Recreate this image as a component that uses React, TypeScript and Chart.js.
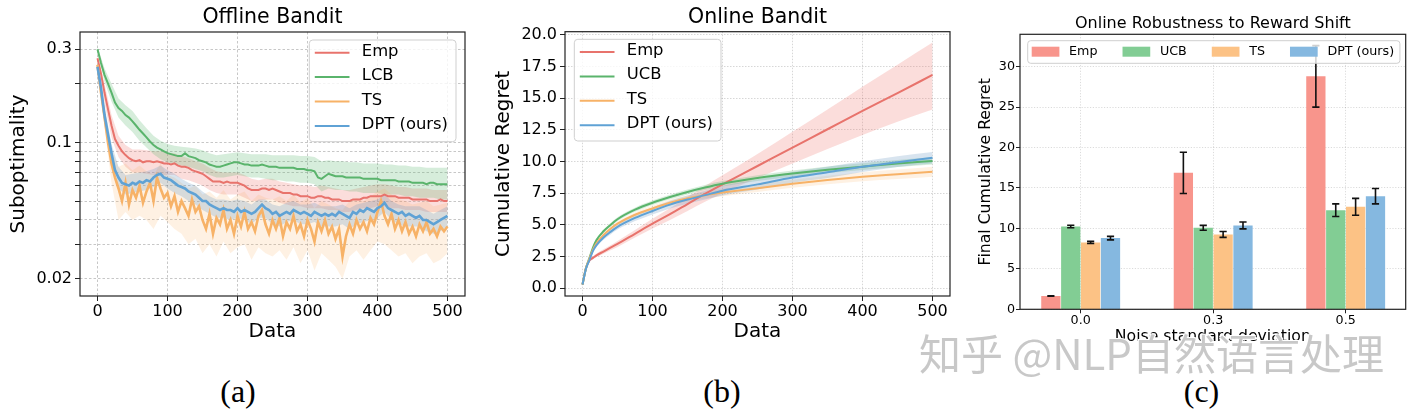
import React, { useEffect, useRef } from 'react';
import { Chart, registerables } from 'chart.js';

Chart.register(...registerables);

const FONT = "'DejaVu Sans', sans-serif";

// ---------- shared ----------
const LINE_COLORS = ['#E8736C', '#5AB46C', '#F7B267', '#5FA2D5'];
const BAND_COLORS = ['rgba(240,120,110,0.25)', 'rgba(90,185,110,0.25)', 'rgba(249,170,90,0.17)', 'rgba(110,155,195,0.27)'];
const BAR_COLORS = ['#F8958C', '#82CD94', '#FCC285', '#85B8E0'];
const X_TICKS = [0, 100, 200, 300, 400, 500];

// ---------- (a) Offline Bandit ----------
const OFF_NAMES = ['Emp', 'LCB', 'TS', 'DPT (ours)'];
const OFF_X = Array.from({ length: 101 }, (_, i) => i * 5);
const OFF_BAND_X = Array.from({ length: 51 }, (_, i) => i * 10);
const OFF_Y_TICKS = [0.02, 0.03, 0.04, 0.05, 0.06, 0.07, 0.08, 0.09, 0.1, 0.2, 0.3];
const OFF_Y_LABELS = [0.02, 0.1, 0.3];

const OFF_EMP = [
  0.270, 0.225, 0.180, 0.148, 0.122, 0.104, 0.096, 0.090, 0.086, 0.083,
  0.081, 0.080, 0.081, 0.079, 0.080, 0.080, 0.079, 0.080, 0.079, 0.078,
  0.078, 0.077, 0.078, 0.076, 0.075, 0.075, 0.074, 0.072, 0.071, 0.070,
  0.069, 0.067, 0.065, 0.063, 0.063, 0.063, 0.062, 0.063, 0.062, 0.062,
  0.062, 0.061, 0.060, 0.058, 0.057, 0.057, 0.057, 0.058, 0.058, 0.057,
  0.058, 0.057, 0.056, 0.055, 0.055, 0.055, 0.054, 0.054, 0.053, 0.053,
  0.053, 0.052, 0.052, 0.053, 0.053, 0.052, 0.052, 0.051, 0.051, 0.051,
  0.050, 0.050, 0.050, 0.051, 0.051, 0.051, 0.052, 0.052, 0.053, 0.053,
  0.053, 0.053, 0.054, 0.053, 0.053, 0.053, 0.052, 0.052, 0.052, 0.052,
  0.051, 0.051, 0.051, 0.051, 0.051, 0.050, 0.050, 0.050, 0.051, 0.050, 0.050,
];
const OFF_LCB = [
  0.300, 0.255, 0.222, 0.200, 0.180, 0.160, 0.150, 0.145, 0.138, 0.134,
  0.128, 0.122, 0.116, 0.111, 0.106, 0.101, 0.097, 0.094, 0.092, 0.090,
  0.088, 0.087, 0.086, 0.085, 0.085, 0.088, 0.085, 0.084, 0.083, 0.081,
  0.080, 0.079, 0.077, 0.076, 0.075, 0.075, 0.076, 0.077, 0.078, 0.079,
  0.079, 0.078, 0.077, 0.077, 0.076, 0.076, 0.076, 0.077, 0.076, 0.075,
  0.075, 0.075, 0.074, 0.074, 0.074, 0.074, 0.074, 0.073, 0.073, 0.073,
  0.072, 0.072, 0.071, 0.066, 0.065, 0.067, 0.069, 0.068, 0.067, 0.067,
  0.067, 0.066, 0.066, 0.066, 0.066, 0.066, 0.065, 0.065, 0.065, 0.065,
  0.065, 0.064, 0.064, 0.064, 0.064, 0.064, 0.063, 0.063, 0.063, 0.063,
  0.062, 0.062, 0.062, 0.062, 0.061, 0.062, 0.062, 0.061, 0.061, 0.061, 0.061,
];
const OFF_TS = [
  0.250, 0.180, 0.135, 0.100, 0.078, 0.066, 0.058, 0.050, 0.062, 0.048,
  0.057, 0.052, 0.060, 0.049, 0.056, 0.062, 0.050, 0.066, 0.058, 0.052,
  0.055, 0.047, 0.053, 0.044, 0.050, 0.046, 0.042, 0.051, 0.044, 0.047,
  0.040, 0.036, 0.043, 0.034, 0.041, 0.038, 0.045, 0.036, 0.040, 0.034,
  0.042, 0.037, 0.044, 0.036, 0.039, 0.035, 0.042, 0.045, 0.038, 0.034,
  0.040, 0.036, 0.041, 0.033, 0.039, 0.036, 0.042, 0.035, 0.038, 0.033,
  0.040, 0.036, 0.031, 0.039, 0.035, 0.040, 0.034, 0.037, 0.032, 0.036,
  0.026, 0.033, 0.038, 0.034, 0.040, 0.036, 0.039, 0.035, 0.041, 0.038,
  0.044, 0.050, 0.042, 0.038, 0.043, 0.036, 0.040, 0.035, 0.039, 0.034,
  0.037, 0.033, 0.038, 0.035, 0.039, 0.034, 0.036, 0.033, 0.037, 0.035, 0.037,
];
const OFF_DPT = [
  0.244, 0.190, 0.138, 0.110, 0.088, 0.072, 0.066, 0.062, 0.061, 0.060,
  0.062, 0.061, 0.063, 0.062, 0.064, 0.063, 0.066, 0.068, 0.069, 0.066,
  0.065, 0.064, 0.062, 0.060, 0.059, 0.058, 0.056, 0.055, 0.054, 0.052,
  0.050, 0.050, 0.048, 0.047, 0.046, 0.045, 0.046, 0.045, 0.045, 0.044,
  0.046, 0.044, 0.045, 0.044, 0.043, 0.044, 0.046, 0.048, 0.046, 0.045,
  0.043, 0.044, 0.042, 0.043, 0.044, 0.043, 0.045, 0.044, 0.043, 0.044,
  0.043, 0.042, 0.044, 0.043, 0.042, 0.043, 0.042, 0.043, 0.042, 0.044,
  0.043, 0.042, 0.041, 0.044, 0.043, 0.045, 0.044, 0.046, 0.045, 0.044,
  0.046, 0.047, 0.049, 0.046, 0.045, 0.044, 0.043, 0.044, 0.042, 0.043,
  0.042, 0.041, 0.042, 0.040, 0.040, 0.039, 0.038, 0.039, 0.040, 0.041, 0.042,
];

const OFF_EMP_HI = [
  0.28, 0.20, 0.138, 0.108, 0.097, 0.092, 0.092, 0.091, 0.090, 0.090,
  0.088, 0.088, 0.085, 0.083, 0.080, 0.078, 0.074, 0.071, 0.070, 0.070,
  0.070, 0.068, 0.065, 0.064, 0.065, 0.065, 0.063, 0.062, 0.061, 0.060,
  0.060, 0.059, 0.060, 0.059, 0.058, 0.057, 0.057, 0.058, 0.059, 0.060,
  0.061, 0.061, 0.060, 0.059, 0.059, 0.058, 0.058, 0.058, 0.057, 0.057, 0.057,
];
const OFF_EMP_LO = [
  0.26, 0.16, 0.106, 0.084, 0.075, 0.070, 0.070, 0.069, 0.068, 0.068,
  0.068, 0.068, 0.065, 0.064, 0.062, 0.060, 0.057, 0.055, 0.054, 0.054,
  0.054, 0.052, 0.050, 0.050, 0.051, 0.051, 0.049, 0.048, 0.047, 0.047,
  0.046, 0.046, 0.046, 0.045, 0.045, 0.044, 0.044, 0.045, 0.046, 0.046,
  0.047, 0.047, 0.046, 0.046, 0.045, 0.045, 0.045, 0.044, 0.044, 0.044, 0.044,
];
const OFF_LCB_HI = [
  0.31, 0.24, 0.20, 0.168, 0.155, 0.145, 0.130, 0.118, 0.108, 0.102,
  0.098, 0.096, 0.095, 0.094, 0.093, 0.091, 0.088, 0.086, 0.087, 0.088,
  0.089, 0.088, 0.087, 0.087, 0.087, 0.086, 0.086, 0.086, 0.086, 0.085,
  0.085, 0.084, 0.080, 0.081, 0.080, 0.080, 0.079, 0.079, 0.078, 0.078,
  0.078, 0.077, 0.077, 0.076, 0.076, 0.075, 0.075, 0.074, 0.074, 0.074, 0.074,
];
const OFF_LCB_LO = [
  0.29, 0.205, 0.162, 0.134, 0.122, 0.113, 0.102, 0.094, 0.087, 0.082,
  0.079, 0.077, 0.076, 0.075, 0.073, 0.071, 0.068, 0.066, 0.066, 0.067,
  0.068, 0.067, 0.066, 0.066, 0.065, 0.064, 0.064, 0.063, 0.063, 0.062,
  0.062, 0.061, 0.056, 0.058, 0.057, 0.057, 0.056, 0.056, 0.055, 0.055,
  0.055, 0.054, 0.054, 0.054, 0.053, 0.053, 0.052, 0.052, 0.052, 0.051, 0.051,
];
const OFF_TS_HI = [
  0.26, 0.15, 0.092, 0.075, 0.078, 0.072, 0.076, 0.071, 0.068, 0.078,
  0.068, 0.066, 0.062, 0.058, 0.060, 0.054, 0.056, 0.052, 0.057, 0.051,
  0.054, 0.056, 0.050, 0.054, 0.052, 0.051, 0.053, 0.050, 0.054, 0.049,
  0.052, 0.046, 0.050, 0.048, 0.046, 0.045, 0.050, 0.052, 0.050, 0.053,
  0.056, 0.058, 0.054, 0.051, 0.050, 0.048, 0.049, 0.050, 0.047, 0.048, 0.049,
];
const OFF_TS_LO = [
  0.24, 0.12, 0.062, 0.040, 0.044, 0.040, 0.042, 0.040, 0.036, 0.042,
  0.039, 0.036, 0.034, 0.030, 0.032, 0.027, 0.030, 0.026, 0.031, 0.027,
  0.029, 0.030, 0.025, 0.029, 0.027, 0.026, 0.028, 0.025, 0.029, 0.024,
  0.028, 0.022, 0.027, 0.025, 0.023, 0.020, 0.026, 0.028, 0.025, 0.028,
  0.031, 0.030, 0.028, 0.026, 0.027, 0.024, 0.026, 0.027, 0.024, 0.025, 0.027,
];
const OFF_DPT_HI = [
  0.26, 0.155, 0.098, 0.075, 0.068, 0.069, 0.070, 0.071, 0.073, 0.076,
  0.072, 0.069, 0.065, 0.062, 0.060, 0.056, 0.053, 0.051, 0.051, 0.050,
  0.051, 0.050, 0.048, 0.051, 0.051, 0.048, 0.047, 0.049, 0.050, 0.048,
  0.048, 0.049, 0.047, 0.047, 0.047, 0.048, 0.046, 0.048, 0.049, 0.050,
  0.051, 0.054, 0.050, 0.048, 0.047, 0.047, 0.047, 0.045, 0.043, 0.045, 0.047,
];
const OFF_DPT_LO = [
  0.23, 0.122, 0.078, 0.058, 0.054, 0.055, 0.056, 0.057, 0.059, 0.062,
  0.058, 0.055, 0.053, 0.050, 0.048, 0.045, 0.043, 0.041, 0.041, 0.040,
  0.041, 0.040, 0.038, 0.041, 0.041, 0.038, 0.037, 0.039, 0.040, 0.038,
  0.038, 0.039, 0.037, 0.037, 0.037, 0.038, 0.036, 0.038, 0.039, 0.040,
  0.041, 0.044, 0.040, 0.038, 0.037, 0.037, 0.037, 0.035, 0.034, 0.035, 0.037,
];

// ---------- (b) Online Bandit ----------
const ON_NAMES = ['Emp', 'UCB', 'TS', 'DPT (ours)'];
const ON_X = [0, 5, 10, 15, 20, 30, 40, 50, 75, 100, 125, 150, 175, 200, 250, 300, 350, 400, 450, 500];
const ON_Y_TICKS = [0, 2.5, 5, 7.5, 10, 12.5, 15, 17.5, 20];
const ON_EMP = [0.3, 1.6, 2.2, 2.4, 2.6, 2.9, 3.2, 3.5, 4.3, 5.1, 5.85, 6.65, 7.45, 8.2, 9.65, 11.1, 12.55, 14.0, 15.4, 16.84];
const ON_UCB = [0.3, 1.6, 2.4, 3.2, 3.8, 4.5, 5.0, 5.45, 6.2, 6.75, 7.2, 7.6, 7.95, 8.25, 8.7, 9.05, 9.35, 9.6, 9.85, 10.05];
const ON_TS = [0.3, 1.6, 2.35, 3.05, 3.55, 4.2, 4.7, 5.1, 5.8, 6.3, 6.75, 7.1, 7.35, 7.55, 7.9, 8.25, 8.55, 8.8, 9.0, 9.2];
const ON_DPT = [0.3, 1.55, 2.25, 2.95, 3.4, 4.0, 4.45, 4.85, 5.55, 6.1, 6.6, 7.0, 7.35, 7.7, 8.2, 8.75, 9.15, 9.6, 9.95, 10.3];
const ON_EMP_HI = [0.3, 1.65, 2.3, 2.52, 2.74, 3.07, 3.4, 3.74, 4.6, 5.48, 6.31, 7.2, 8.08, 8.92, 10.6, 12.35, 14.1, 15.9, 17.65, 19.4];
const ON_EMP_LO = [0.3, 1.55, 2.1, 2.28, 2.46, 2.73, 3.0, 3.26, 4.0, 4.72, 5.39, 6.1, 6.82, 7.48, 8.7, 9.85, 11.0, 12.1, 13.15, 14.1];
const ON_UCB_HI = [0.3, 1.65, 2.48, 3.3, 3.92, 4.63, 5.14, 5.6, 6.36, 6.92, 7.38, 7.79, 8.15, 8.46, 8.93, 9.3, 9.61, 9.87, 10.13, 10.34];
const ON_UCB_LO = [0.3, 1.55, 2.32, 3.1, 3.68, 4.37, 4.86, 5.3, 6.04, 6.58, 7.02, 7.41, 7.75, 8.04, 8.47, 8.8, 9.09, 9.33, 9.57, 9.76];
const ON_TS_HI = [0.3, 1.65, 2.43, 3.15, 3.67, 4.34, 4.86, 5.27, 5.99, 6.51, 6.98, 7.34, 7.61, 7.83, 8.2, 8.57, 8.89, 9.16, 9.38, 9.6];
const ON_TS_LO = [0.3, 1.55, 2.27, 2.95, 3.43, 4.06, 4.54, 4.93, 5.61, 6.09, 6.52, 6.86, 7.09, 7.27, 7.6, 7.93, 8.21, 8.44, 8.62, 8.8];
const ON_DPT_HI = [0.3, 1.6, 2.33, 3.07, 3.54, 4.17, 4.65, 5.07, 5.8, 6.38, 6.9, 7.32, 7.7, 8.07, 8.6, 9.18, 9.6, 10.03, 10.42, 10.75];
const ON_DPT_LO = [0.3, 1.5, 2.17, 2.83, 3.26, 3.83, 4.25, 4.63, 5.3, 5.82, 6.3, 6.68, 7.0, 7.33, 7.8, 8.32, 8.7, 9.17, 9.58, 9.85];

// ---------- (c) Online Robustness to Reward Shift ----------
const NOISE_LABELS = ['0.0', '0.3', '0.5'];
const NOISE_POS = [0, 1, 2];
const BAR_NAMES = ['Emp', 'UCB', 'TS', 'DPT (ours)'];
const BAR_Y_TICKS = [0, 5, 10, 15, 20, 25, 30];
const BAR_EMP = [1.64, 16.87, 28.8];
const BAR_UCB = [10.24, 10.08, 12.26];
const BAR_TS = [8.27, 9.25, 12.67];
const BAR_DPT = [8.8, 10.37, 13.99];
const ERR_EMP = [0.03, 2.55, 3.8];
const ERR_UCB = [0.15, 0.3, 0.78];
const ERR_TS = [0.13, 0.36, 1.05];
const ERR_DPT = [0.22, 0.43, 0.95];

// ---------- helpers ----------
function roundedRect(ctx: any, x: number, y: number, w: number, h: number, r: number) {
  ctx.beginPath();
  ctx.moveTo(x + r, y);
  ctx.lineTo(x + w - r, y);
  ctx.arcTo(x + w, y, x + w, y + r, r);
  ctx.lineTo(x + w, y + h - r);
  ctx.arcTo(x + w, y + h, x + w - r, y + h, r);
  ctx.lineTo(x + r, y + h);
  ctx.arcTo(x, y + h, x, y + h - r, r);
  ctx.lineTo(x, y + r);
  ctx.arcTo(x, y, x + r, y, r);
  ctx.closePath();
}

const framePlugin = {
  id: 'frame',
  afterDraw(chart: any) {
    const { ctx, chartArea: ca } = chart;
    ctx.save();
    ctx.strokeStyle = '#222';
    ctx.lineWidth = 1.2;
    ctx.strokeRect(ca.left, ca.top, ca.right - ca.left, ca.bottom - ca.top);
    ctx.restore();
  },
};

function makeLineLegend(names: string[], colors: string[], corner: 'tl' | 'tr', dx: number, dy: number) {
  return {
    id: 'lineLegend',
    afterDraw(chart: any) {
      const { ctx, chartArea: ca } = chart;
      const fontSize = 16.4;
      const padL = 5.5, handle = 34.7, gap = 12.3, padR = 8, firstRow = 12.7, rowH = 24.4, height = 101.7;
      ctx.save();
      ctx.font = `${fontSize}px ${FONT}`;
      const tw = Math.max(...names.map((n) => ctx.measureText(n).width));
      const w = padL + handle + gap + tw + padR;
      const left = corner === 'tr' ? ca.right - dx - w : ca.left + dx;
      const top = ca.top + dy;
      roundedRect(ctx, left, top, w, height, 3.5);
      ctx.fillStyle = 'rgba(255,255,255,0.8)';
      ctx.fill();
      ctx.strokeStyle = '#cfcfcf';
      ctx.lineWidth = 1;
      ctx.stroke();
      names.forEach((n, i) => {
        const cy = top + firstRow + i * rowH;
        ctx.strokeStyle = colors[i];
        ctx.lineWidth = 2;
        ctx.beginPath();
        ctx.moveTo(left + padL, cy);
        ctx.lineTo(left + padL + handle, cy);
        ctx.stroke();
        ctx.fillStyle = '#000';
        ctx.textAlign = 'left';
        ctx.textBaseline = 'middle';
        ctx.fillText(n, left + padL + handle + gap, cy - 1.2);
      });
      ctx.restore();
    },
  };
}

const barLegendPlugin = {
  id: 'barLegend',
  afterDraw(chart: any) {
    const { ctx, chartArea: ca } = chart;
    const fontSize = 12.7;
    const left = ca.left + 7.7, top = ca.top + 6.4, height = 22.6;
    const padL = 4, patchW = 27.7, patchH = 10, gap = 9.7, colSp = 25, padR = 5.8;
    ctx.save();
    ctx.font = `${fontSize}px ${FONT}`;
    const widths = BAR_NAMES.map((n) => ctx.measureText(n).width);
    let total = padL;
    widths.forEach((tw, i) => {
      total += patchW + gap + tw + (i < widths.length - 1 ? colSp : padR);
    });
    roundedRect(ctx, left, top, total, height, 3);
    ctx.fillStyle = 'rgba(255,255,255,0.8)';
    ctx.fill();
    ctx.strokeStyle = '#cfcfcf';
    ctx.lineWidth = 1;
    ctx.stroke();
    const cy = top + 11;
    let x = left + padL;
    BAR_NAMES.forEach((n, i) => {
      ctx.fillStyle = BAR_COLORS[i];
      ctx.fillRect(x, cy - patchH / 2, patchW, patchH);
      ctx.fillStyle = '#000';
      ctx.textAlign = 'left';
      ctx.textBaseline = 'middle';
      ctx.fillText(n, x + patchW + gap, cy - 0.5);
      x += patchW + gap + widths[i] + colSp;
    });
    ctx.restore();
  },
};

const BAR_VALUES = [BAR_EMP, BAR_UCB, BAR_TS, BAR_DPT];
const BAR_ERRS = [ERR_EMP, ERR_UCB, ERR_TS, ERR_DPT];

const errorBarPlugin = {
  id: 'errorBars',
  afterDatasetsDraw(chart: any) {
    const { ctx } = chart;
    const yScale = chart.scales.y;
    ctx.save();
    ctx.strokeStyle = '#111';
    ctx.lineWidth = 1.6;
    BAR_VALUES.forEach((vals, di) => {
      const meta = chart.getDatasetMeta(di);
      meta.data.forEach((bar: any, i: number) => {
        const v = vals[i];
        const e = BAR_ERRS[di][i];
        const yt = yScale.getPixelForValue(v + e);
        const yb = yScale.getPixelForValue(v - e);
        const x = bar.x;
        const cap = 3.6;
        ctx.beginPath();
        ctx.moveTo(x, yt);
        ctx.lineTo(x, yb);
        ctx.moveTo(x - cap, yt);
        ctx.lineTo(x + cap, yt);
        ctx.moveTo(x - cap, yb);
        ctx.lineTo(x + cap, yb);
        ctx.stroke();
      });
    });
    ctx.restore();
  },
};

function lineSeries(xs: number[], bandXs: number[], names: string[], lines: number[][], los: number[][], his: number[][], smooth: boolean, widths: number[]) {
  const ds: any[] = [];
  lines.forEach((_, k) => {
    ds.push({
      label: names[k] + ' low',
      data: bandXs.map((x, i) => ({ x, y: los[k][i] })),
      borderWidth: 0,
      borderColor: 'rgba(0,0,0,0)',
      pointRadius: 0,
      fill: false,
      order: 20 - k,
      cubicInterpolationMode: smooth ? 'monotone' : 'default',
    });
    ds.push({
      label: names[k] + ' high',
      data: bandXs.map((x, i) => ({ x, y: his[k][i] })),
      borderWidth: 0,
      borderColor: 'rgba(0,0,0,0)',
      backgroundColor: BAND_COLORS[k],
      pointRadius: 0,
      fill: '-1',
      order: 20 - k,
      cubicInterpolationMode: smooth ? 'monotone' : 'default',
    });
  });
  lines.forEach((arr, k) => {
    ds.push({
      label: names[k],
      data: xs.map((x, i) => ({ x, y: arr[i] })),
      borderColor: LINE_COLORS[k],
      borderWidth: widths[k],
      pointRadius: 0,
      fill: false,
      order: 10 - k,
      cubicInterpolationMode: smooth ? 'monotone' : 'default',
    });
  });
  return ds;
}

const GRID_A = 'rgba(0,0,0,0.28)';
const GRID_B = 'rgba(0,0,0,0.2)';

function xAxisLine(gridColor: string, dash: number[]) {
  return {
    type: 'linear',
    min: -25,
    max: 525,
    afterBuildTicks: (s: any) => {
      s.ticks = X_TICKS.map((v) => ({ value: v }));
    },
    afterFit: (s: any) => {
      s.height = 54;
    },
    ticks: { font: { size: 16, family: FONT }, color: '#000', padding: 1, maxRotation: 0, autoSkip: false, callback: (v: any) => String(v) },
    grid: { color: gridColor, lineWidth: 0.8, tickColor: '#222', tickLength: 5, tickWidth: 1 },
    border: { display: false, dash },
    title: { display: true, text: 'Data', font: { size: 20, family: FONT }, color: '#000', padding: { top: 0, bottom: 6.3 } },
  };
}

function makeOffline(canvas: HTMLCanvasElement) {
  return new Chart(canvas, {
    type: 'line',
    data: {
      datasets: lineSeries(
        OFF_X,
        OFF_BAND_X,
        OFF_NAMES,
        [OFF_EMP, OFF_LCB, OFF_TS, OFF_DPT],
        [OFF_EMP_LO, OFF_LCB_LO, OFF_TS_LO, OFF_DPT_LO],
        [OFF_EMP_HI, OFF_LCB_HI, OFF_TS_HI, OFF_DPT_HI],
        false,
        [2, 2, 2.6, 2.6]
      ),
    },
    options: {
      animation: false,
      responsive: false,
      layout: { padding: { left: 0, right: 10, top: 0, bottom: 0 } },
      plugins: {
        legend: { display: false },
        tooltip: { enabled: false },
        title: {
          display: true,
          text: 'Offline Bandit',
          fullSize: false,
          color: '#000',
          font: { size: 20.5, family: FONT, weight: 'normal' },
          padding: { top: 5.2, bottom: 2.2 },
        },
      },
      scales: {
        x: xAxisLine(GRID_A, [2.5, 2]),
        y: {
          type: 'logarithmic',
          min: 0.0163,
          max: 0.368,
          afterBuildTicks: (s: any) => {
            s.ticks = OFF_Y_TICKS.map((v) => ({ value: v }));
          },
          afterFit: (s: any) => {
            s.width = 80;
          },
          ticks: {
            font: { size: 16, family: FONT },
            color: '#000',
            padding: 3,
            autoSkip: false,
            callback: (v: any) => (OFF_Y_LABELS.some((l) => Math.abs(l - v) < 1e-9) ? String(v) : ''),
          },
          grid: { color: GRID_A, lineWidth: 0.8, tickColor: '#222', tickLength: 5, tickWidth: 1 },
          border: { display: false, dash: [2.5, 2] },
          title: { display: true, text: 'Suboptimality', font: { size: 20, family: FONT }, color: '#000', padding: { top: 6.3, bottom: 0 } },
        },
      },
    } as any,
    plugins: [framePlugin, makeLineLegend(OFF_NAMES, LINE_COLORS, 'tr', 9, 8)],
  } as any);
}

function makeOnline(canvas: HTMLCanvasElement) {
  return new Chart(canvas, {
    type: 'line',
    data: {
      datasets: lineSeries(
        ON_X,
        ON_X,
        ON_NAMES,
        [ON_EMP, ON_UCB, ON_TS, ON_DPT],
        [ON_EMP_LO, ON_UCB_LO, ON_TS_LO, ON_DPT_LO],
        [ON_EMP_HI, ON_UCB_HI, ON_TS_HI, ON_DPT_HI],
        true,
        [2, 2, 2, 2]
      ),
    },
    options: {
      animation: false,
      responsive: false,
      layout: { padding: { left: 0, right: 5, top: 0, bottom: 0 } },
      plugins: {
        legend: { display: false },
        tooltip: { enabled: false },
        title: {
          display: true,
          text: 'Online Bandit',
          fullSize: false,
          color: '#000',
          font: { size: 20.5, family: FONT, weight: 'normal' },
          padding: { top: 5.2, bottom: 1.9 },
        },
      },
      scales: {
        x: xAxisLine(GRID_B, [1.5, 1.5]),
        y: {
          type: 'linear',
          min: -0.61,
          max: 20.25,
          afterBuildTicks: (s: any) => {
            s.ticks = ON_Y_TICKS.map((v) => ({ value: v }));
          },
          afterFit: (s: any) => {
            s.width = 85;
          },
          ticks: {
            font: { size: 16, family: FONT },
            color: '#000',
            padding: 3,
            autoSkip: false,
            callback: (v: any) => Number(v).toFixed(1),
          },
          grid: { color: GRID_B, lineWidth: 0.8, tickColor: '#222', tickLength: 5, tickWidth: 1 },
          border: { display: false, dash: [1.5, 1.5] },
          title: { display: true, text: 'Cumulative Regret', font: { size: 20, family: FONT }, color: '#000', padding: { top: 12.1, bottom: 0 } },
        },
      },
    } as any,
    plugins: [framePlugin, makeLineLegend(ON_NAMES, LINE_COLORS, 'tl', 9.3, 7.6)],
  } as any);
}

function makeBars(canvas: HTMLCanvasElement) {
  return new Chart(canvas, {
    type: 'bar',
    data: {
      datasets: BAR_VALUES.map((vals, k) => ({
        label: BAR_NAMES[k],
        data: vals.map((y, i) => ({ x: NOISE_POS[i], y })),
        backgroundColor: BAR_COLORS[k],
        borderWidth: 0,
        categoryPercentage: 0.6,
        barPercentage: 0.97,
      })),
    },
    options: {
      animation: false,
      responsive: false,
      layout: { padding: { left: 0, right: 15.3, top: 0, bottom: 0 } },
      plugins: {
        legend: { display: false },
        tooltip: { enabled: false },
        title: {
          display: true,
          text: 'Online Robustness to Reward Shift',
          fullSize: false,
          color: '#000',
          font: { size: 16, family: FONT, weight: 'normal' },
          padding: { top: 14.4, bottom: 0.7 },
        },
      },
      scales: {
        x: {
          type: 'linear',
          offset: false,
          min: -0.458,
          max: 2.453,
          afterBuildTicks: (s: any) => {
            s.ticks = NOISE_POS.map((v) => ({ value: v }));
          },
          afterFit: (s: any) => {
            s.height = 40.7;
          },
          ticks: {
            font: { size: 12.7, family: FONT },
            color: '#000',
            padding: 0,
            autoSkip: false,
            maxRotation: 0,
            callback: (v: any) => NOISE_LABELS[NOISE_POS.indexOf(Number(v))] ?? '',
          },
          grid: { offset: false, color: 'rgba(0,0,0,0.18)', lineWidth: 0.8, tickColor: '#222', tickLength: 4, tickWidth: 1 },
          border: { display: false, dash: [1.2, 1.6] },
          title: { display: true, text: 'Noise standard deviation', font: { size: 15.7, family: FONT }, color: '#000', padding: { top: 0, bottom: 3.9 } },
        },
        y: {
          type: 'linear',
          min: 0,
          max: 34,
          afterBuildTicks: (s: any) => {
            s.ticks = BAR_Y_TICKS.map((v) => ({ value: v }));
          },
          afterFit: (s: any) => {
            s.width = 60;
          },
          ticks: { font: { size: 12.7, family: FONT }, color: '#000', padding: 1, autoSkip: false, callback: (v: any) => String(v) },
          grid: { color: 'rgba(0,0,0,0.18)', lineWidth: 0.8, tickColor: '#222', tickLength: 4, tickWidth: 1 },
          border: { display: false, dash: [1.2, 1.6] },
          title: { display: true, text: 'Final Cumulative Regret', font: { size: 15.7, family: FONT }, color: '#000', padding: { top: 16.2, bottom: 0 } },
        },
      },
    } as any,
    plugins: [errorBarPlugin, framePlugin, barLegendPlugin],
  } as any);
}

function ChartCanvas({ left, width, height, make }: { left: number; width: number; height: number; make: (c: HTMLCanvasElement) => Chart }) {
  const ref = useRef<HTMLCanvasElement>(null);
  useEffect(() => {
    const chart = make(ref.current as HTMLCanvasElement);
    return () => chart.destroy();
  }, []);
  return (
    <canvas
      ref={ref}
      width={width}
      height={height}
      style={{ position: 'absolute', left, top: 0, width, height }}
    />
  );
}

const captionStyle: React.CSSProperties = {
  position: 'absolute',
  top: 375.4,
  width: 80,
  textAlign: 'center',
  fontFamily: "'Liberation Serif', 'Times New Roman', serif",
  fontSize: 32,
  lineHeight: 1,
  color: '#000',
};

export default function App() {
  return (
    <div
      style={{
        position: 'absolute',
        left: 0,
        top: 0,
        width: 1421,
        height: 412,
        overflow: 'hidden',
        background: '#fff',
      }}
    >
      <ChartCanvas left={0} width={475} height={350} make={makeOffline} />
      <ChartCanvas left={480} width={475} height={350} make={makeOnline} />
      <ChartCanvas left={960} width={461} height={350} make={makeBars} />
      <div style={{ ...captionStyle, left: 238 - 40 }}>(a)</div>
      <div style={{ ...captionStyle, left: 722 - 40 }}>(b)</div>
      <div style={{ ...captionStyle, left: 1201.5 - 40 }}>(c)</div>
      <div
        style={{
          position: 'absolute',
          left: 919,
          top: 331,
          fontFamily: "'Noto Sans CJK SC', sans-serif",
          fontSize: 42,
          lineHeight: 1,
          whiteSpace: 'nowrap',
          color: 'rgba(190,190,190,0.85)',
          textShadow: '1px 1px 0 #fff, -1px -1px 0 #fff, 1px -1px 0 #fff, -1px 1px 0 #fff',
        }}
      >
        知乎 @NLP自然语言处理
      </div>
    </div>
  );
}
